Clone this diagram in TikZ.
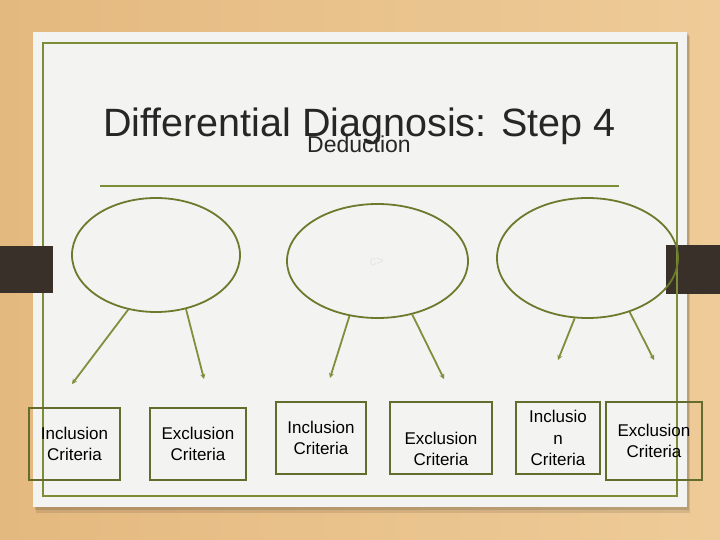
\documentclass[tikz,border=0pt]{standalone}
\usepackage{fontspec}
\setmainfont{Liberation Sans}
\usetikzlibrary{shapes.geometric,arrows.meta}
\definecolor{woodA}{HTML}{E4B97F}
\definecolor{woodB}{HTML}{EECB98}
\definecolor{paper}{HTML}{F3F3F2}
\definecolor{framec}{HTML}{7C8D3A}
\definecolor{ellc}{HTML}{6C7A2C}
\definecolor{arrc}{HTML}{7F8F3C}
\definecolor{boxc}{HTML}{636C2D}
\definecolor{barc}{HTML}{3A302A}
\definecolor{ink}{HTML}{262626}
\tikzset{
  ell/.style={draw=ellc, line width=1.8pt, ellipse, inner sep=0pt},
  crit/.style={draw=boxc, line width=1.8pt, rectangle, inner sep=0pt, align=center,
    text=black, font=\fontsize{17}{21.5}\selectfont},
  crittext/.style={align=center, text=black, inner sep=0pt, font=\fontsize{17}{21.5}\selectfont},
  conn/.style={draw=arrc, line width=1.8pt, -{Stealth[length=5pt,width=5pt]}},
}
\begin{document}
\begin{tikzpicture}[x=1pt,y=-1pt]
\useasboundingbox (0,0) rectangle (720,540);
% background
\shade[left color=woodA, right color=woodB] (0,0) rectangle (720,540);
% paper shadow
\fill[black, opacity=0.10] (36,36) rectangle (690,513);
\fill[black, opacity=0.12] (35,34) rectangle (689,510);
\fill[paper] (33,32) rectangle (687,507);
% right bar under frame
\fill[barc] (666,245) rectangle (720,294);
% frame
\draw[framec, line width=1.6pt] (43,43) rectangle (677,496);
% left bar over frame
\fill[barc] (0,246) rectangle (53,293);
% title
\node[anchor=base west, inner sep=0pt, text=ink, font=\fontsize{39.5}{46}\selectfont] (title) at (103,137) {Differential Diagnosis: Step 4};
\node[anchor=base west, inner sep=0pt, text=ink, font=\fontsize{23}{27}\selectfont] (sub) at (307,153) {Deduction};
\draw[framec, line width=1.4pt] (100,186) -- (619,186);
% ellipses
\node[ell, minimum width=168, minimum height=114] (e1) at (156,255) {};
\node[ell, minimum width=181, minimum height=114] (e2) at (377.5,261) {};
\node[ell, minimum width=181, minimum height=120] (e3) at (587.5,258) {};
\node[text=black!10, font=\fontsize{13}{15}\selectfont, inner sep=0pt] (c) at (377,262) {c>};
% arrow ends
\coordinate (t1) at (72,384);
\coordinate (t2) at (204,379);
\coordinate (t3) at (330,378);
\coordinate (t4) at (444,379);
\coordinate (t5) at (558,360);
\coordinate (t6) at (654,360);
\draw[conn] (e1.-117.4) -- (t1);
\draw[conn] (e1.-61.8) -- (t2);
\draw[conn] (e2.-117.8) -- (t3);
\draw[conn] (e2.-57.6) -- (t4);
\draw[conn] (e3.-102) -- (t5);
\draw[conn] (e3.-52) -- (t6);
% boxes
\node[crit, minimum width=91, minimum height=72] (b1) at (74.5,444) {Inclusion\\Criteria};
\node[crit, minimum width=96, minimum height=72] (b2) at (198,444) {Exclusion\\Criteria};
\node[crit, minimum width=90, minimum height=72] (b3) at (321,438) {Inclusion\\Criteria};
\node[crit, minimum width=102, minimum height=72] (b4) at (441,438) {};
\node[crittext] (b4t) at (441,449) {Exclusion\\Criteria};
\node[crit, minimum width=84, minimum height=72] (b5) at (558,438) {Inclusio\\n\\Criteria};
\node[crit, minimum width=96, minimum height=78] (b6) at (654,441) {Exclusion\\Criteria};
\end{tikzpicture}
\end{document}
